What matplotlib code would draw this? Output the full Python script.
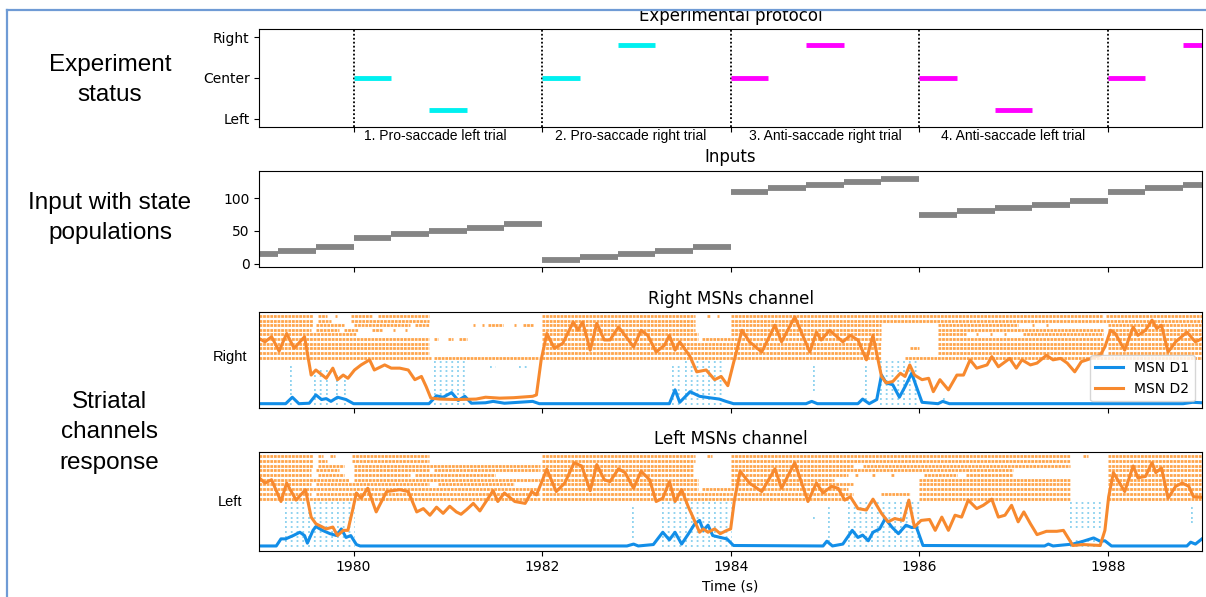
import matplotlib.pyplot as plt
import matplotlib.transforms as mtransforms
from matplotlib.lines import Line2D
from matplotlib.patches import Rectangle

plt.rcParams['font.family'] = 'DejaVu Sans'

# ---------------- data ----------------
trial_starts = [1980, 1982, 1984, 1986, 1988]
trial_names = ['1. Pro-saccade left trial', '2. Pro-saccade right trial',
               '3. Anti-saccade right trial', '4. Anti-saccade left trial']
trial_name_t = [1980.87, 1982.94, 1985.0, 1987.0]

# stimulus bars (Left=0, Center=1, Right=2)
stim_start = [1980.0, 1980.8, 1982.0, 1982.8, 1984.0, 1984.8, 1986.0, 1986.8, 1988.0, 1988.8]
stim_pos = [1.0, 0.2, 1.0, 1.8, 1.0, 1.8, 1.0, 0.2, 1.0, 1.8]
stim_type = ['pro', 'pro', 'pro', 'pro', 'anti', 'anti', 'anti', 'anti', 'anti', 'anti']
stim_len = 0.4

# input populations (steps of 0.4 s)
input_start = [1978.8, 1979.2, 1979.6,
               1980.0, 1980.4, 1980.8, 1981.2, 1981.6,
               1982.0, 1982.4, 1982.8, 1983.2, 1983.6,
               1984.0, 1984.4, 1984.8, 1985.2, 1985.6,
               1986.0, 1986.4, 1986.8, 1987.2, 1987.6,
               1988.0, 1988.4, 1988.8]
input_level = [15, 20, 25,
               40, 45, 50, 55, 60,
               5, 10, 15, 20, 25,
               110, 115, 120, 125, 130,
               75, 80, 85, 90, 95,
               110, 115, 120]
input_len = 0.4

# firing rates (in neuron-index units of the raster)
rd2_t = [1979.00, 1979.06, 1979.13, 1979.21, 1979.29, 1979.37, 1979.48, 1979.55, 1979.60, 1979.71,
         1979.78, 1979.83, 1979.89, 1979.94, 1980.01, 1980.08, 1980.17, 1980.22, 1980.33, 1980.40,
         1980.49, 1980.58, 1980.65, 1980.72, 1980.77, 1980.82, 1980.91, 1981.10, 1981.30, 1981.40,
         1981.55, 1981.70, 1981.90, 1981.94, 1981.99, 1982.05, 1982.13, 1982.22, 1982.33, 1982.38,
         1982.43, 1982.51, 1982.58, 1982.66, 1982.72, 1982.81, 1982.88, 1982.97, 1983.05, 1983.12,
         1983.21, 1983.30, 1983.35, 1983.41, 1983.46, 1983.57, 1983.64, 1983.74, 1983.83, 1983.90,
         1983.97, 1984.03, 1984.12, 1984.20, 1984.33, 1984.47, 1984.54, 1984.68, 1984.84, 1984.91,
         1984.96, 1985.05, 1985.19, 1985.27, 1985.35, 1985.44, 1985.51, 1985.60, 1985.65, 1985.72,
         1985.80, 1985.85, 1985.90, 1985.95, 1986.03, 1986.10, 1986.15, 1986.22, 1986.31, 1986.40,
         1986.47, 1986.54, 1986.61, 1986.72, 1986.77, 1986.84, 1986.96, 1987.03, 1987.09, 1987.18,
         1987.25, 1987.35, 1987.42, 1987.50, 1987.57, 1987.65, 1987.72, 1987.78, 1987.92, 1987.97,
         1988.03, 1988.08, 1988.18, 1988.27, 1988.32, 1988.40, 1988.47, 1988.52, 1988.57, 1988.64,
         1988.72, 1988.84, 1988.93, 1989.00]
rd2_v = [14.1, 13.4, 14.5, 11.4, 15.2, 12.0, 14.5, 6.2, 7.3, 5.5,
         7.7, 5.2, 6.2, 5.5, 7.3, 8.4, 9.5, 7.3, 8.4, 7.7,
         7.7, 7.3, 5.2, 5.9, 3.7, 1.2, 1.0, 0.9, 1.0, 1.4,
         1.2, 1.3, 1.6, 1.9, 9.5, 15.2, 12.0, 13.1, 17.7, 15.9,
         17.7, 11.6, 17.4, 13.8, 13.8, 16.6, 14.8, 12.3, 15.9, 14.8,
         11.2, 12.7, 14.8, 11.6, 13.4, 10.2, 6.9, 7.3, 5.2, 5.9,
         3.9, 8.8, 15.9, 13.4, 11.2, 17.0, 13.4, 18.8, 11.2, 15.5,
         13.8, 15.9, 13.4, 14.8, 13.8, 9.5, 14.8, 5.9, 4.5, 4.8,
         6.6, 5.9, 8.4, 6.2, 5.2, 5.5, 2.6, 5.2, 3.0, 6.2,
         6.2, 9.5, 7.7, 8.4, 10.2, 8.0, 9.8, 7.7, 9.5, 8.4,
         8.8, 10.5, 9.5, 9.8, 8.8, 6.9, 9.1, 9.5, 10.5, 12.3,
         15.9, 15.2, 11.6, 16.6, 14.8, 15.9, 18.1, 16.3, 17.0, 11.2,
         13.4, 15.5, 13.4, 14.1]

rd1_t = [1979.00, 1979.28, 1979.35, 1979.42, 1979.53, 1979.60, 1979.66, 1979.71, 1979.76, 1979.83,
         1979.92, 1980.00, 1980.80, 1980.88, 1980.95, 1981.04, 1981.11, 1981.18, 1981.25, 1981.40,
         1981.48, 1981.60, 1981.75, 1981.90, 1981.97, 1983.35, 1983.41, 1983.46, 1983.57, 1983.67,
         1983.77, 1983.88, 1983.95, 1984.03, 1984.80, 1984.86, 1984.92, 1985.35, 1985.40, 1985.47,
         1985.55, 1985.60, 1985.65, 1985.72, 1985.79, 1985.85, 1985.92, 1985.97, 1986.03, 1986.20,
         1986.25, 1986.32, 1988.80, 1988.90, 1989.00]
rd1_v = [0.0, 0.0, 1.4, 0.0, 0.1, 1.9, 0.9, 1.1, 0.5, 1.4,
         0.9, 0.0, 0.0, 1.7, 1.4, 2.4, 0.7, 1.6, 0.1, 0.2,
         0.5, 0.1, 0.3, 0.5, 0.0, 0.0, 3.0, 0.3, 2.6, 1.6,
         1.3, 1.0, 0.5, 0.0, 0.0, 0.5, 0.0, 0.0, 1.0, 0.0,
         0.9, 6.2, 4.5, 4.1, 1.4, 3.7, 6.6, 3.7, 0.3, 0.0,
         0.5, 0.0, 0.0, 0.3, 0.2]

ld2_t = [1979.00, 1979.06, 1979.13, 1979.23, 1979.29, 1979.39, 1979.49, 1979.55, 1979.60, 1979.71,
         1979.78, 1979.83, 1979.89, 1979.94, 1979.99, 1980.03, 1980.08, 1980.15, 1980.24, 1980.35,
         1980.49, 1980.58, 1980.67, 1980.74, 1980.81, 1980.88, 1980.95, 1981.02, 1981.09, 1981.14,
         1981.20, 1981.27, 1981.34, 1981.48, 1981.53, 1981.60, 1981.71, 1981.82, 1981.89, 1981.94,
         1982.05, 1982.15, 1982.24, 1982.34, 1982.42, 1982.51, 1982.58, 1982.66, 1982.72, 1982.81,
         1982.88, 1982.97, 1983.05, 1983.14, 1983.21, 1983.28, 1983.35, 1983.41, 1983.48, 1983.55,
         1983.60, 1983.67, 1983.71, 1983.76, 1983.83, 1983.89, 1983.96, 1984.00, 1984.04, 1984.10,
         1984.20, 1984.33, 1984.47, 1984.54, 1984.68, 1984.82, 1984.91, 1984.98, 1985.07, 1985.14,
         1985.21, 1985.27, 1985.35, 1985.44, 1985.51, 1985.60, 1985.67, 1985.74, 1985.83, 1985.89,
         1985.95, 1986.02, 1986.11, 1986.17, 1986.24, 1986.31, 1986.38, 1986.45, 1986.52, 1986.61,
         1986.68, 1986.77, 1986.84, 1986.91, 1986.98, 1987.05, 1987.11, 1987.18, 1987.25, 1987.35,
         1987.46, 1987.53, 1987.63, 1987.74, 1987.92, 1987.97, 1988.01, 1988.06, 1988.18, 1988.27,
         1988.32, 1988.40, 1988.47, 1988.51, 1988.57, 1988.64, 1988.72, 1988.79, 1988.86, 1988.91,
         1989.00]
ld2_v = [14.4, 13.3, 14.0, 9.4, 13.3, 9.7, 11.9, 6.1, 4.7, 3.6,
         4.0, 2.2, 3.3, 3.3, 7.6, 11.2, 10.1, 12.2, 7.2, 11.5,
         11.9, 11.5, 7.2, 7.9, 6.5, 8.2, 6.9, 8.4, 7.2, 6.7,
         7.7, 9.0, 7.4, 11.7, 9.4, 11.2, 9.4, 9.0, 11.5, 10.8,
         16.2, 11.5, 13.3, 17.6, 16.9, 11.7, 17.2, 14.0, 13.6, 16.3,
         15.5, 12.2, 15.8, 14.0, 9.4, 10.1, 13.6, 9.4, 11.9, 8.3,
         6.1, 2.9, 3.6, 2.9, 3.6, 2.6, 3.3, 3.6, 9.7, 15.8,
         13.3, 11.5, 16.3, 12.2, 17.6, 9.4, 13.3, 11.2, 12.6, 12.2,
         9.7, 10.4, 7.9, 7.6, 9.9, 6.9, 5.1, 5.8, 5.4, 9.7,
         4.0, 5.4, 5.6, 3.3, 6.1, 3.3, 6.5, 6.1, 9.7, 7.9,
         8.6, 9.9, 6.1, 6.5, 8.6, 5.1, 7.2, 4.7, 2.4, 3.1,
         3.1, 3.3, 0.1, 0.3, 0.1, 3.3, 10.4, 15.5, 11.5, 16.9,
         14.4, 14.7, 17.6, 15.5, 16.5, 10.1, 12.6, 13.3, 12.6, 10.4,
         10.3]

ld1_t = [1979.00, 1979.18, 1979.23, 1979.28, 1979.36, 1979.43, 1979.48, 1979.51, 1979.57, 1979.60,
         1979.67, 1979.75, 1979.82, 1979.87, 1979.92, 1979.97, 1980.03, 1980.07, 1982.90, 1982.97,
         1983.02, 1983.18, 1983.28, 1983.35, 1983.41, 1983.48, 1983.55, 1983.62, 1983.67, 1983.71,
         1983.76, 1983.81, 1983.89, 1983.96, 1984.03, 1984.98, 1985.02, 1985.08, 1985.19, 1985.29,
         1985.35, 1985.40, 1985.46, 1985.51, 1985.58, 1985.64, 1985.71, 1985.78, 1985.86, 1985.92,
         1985.97, 1986.04, 1987.33, 1987.37, 1987.42, 1987.63, 1987.74, 1987.85, 1987.92, 1987.97,
         1988.04, 1988.84, 1988.88, 1988.93, 1989.00]
ld1_v = [0.0, 0.0, 1.5, 1.5, 2.2, 2.9, 2.2, 0.6, 3.3, 4.1,
         3.3, 2.6, 2.2, 3.6, 1.8, 2.2, 0.3, 0.0, 0.0, 0.4,
         0.0, 0.3, 2.9, 1.3, 2.9, 0.4, 2.5, 4.7, 5.4, 3.3,
         4.4, 2.2, 1.8, 1.5, 0.1, 0.0, 1.0, 0.0, 0.4, 3.3,
         1.8, 2.3, 1.1, 2.9, 3.6, 5.8, 4.0, 2.6, 4.4, 3.9,
         4.0, 0.1, 0.0, 0.4, 0.0, 0.4, 1.0, 1.7, 1.0, 1.1,
         0.0, 0.0, 0.8, 0.4, 1.5]

# D2 spike trains: active intervals per row, rows 10 (bottom) .. 19 (top)
right_d2_rows = [
    [(1979.0, 1980.82), (1980.85, 1981.97), (1982.0, 1985.6), (1985.85, 1989.0)],
    [(1979.0, 1980.8), (1982.0, 1985.6), (1986.2, 1987.95), (1988.0, 1989.0)],
    [(1979.0, 1980.8), (1982.0, 1985.6), (1985.9, 1986.0), (1986.2, 1987.95), (1988.0, 1989.0)],
    [(1979.0, 1980.8), (1982.0, 1985.6), (1986.2, 1987.95), (1988.0, 1989.0)],
    [(1979.0, 1980.8), (1980.85, 1980.9), (1981.0, 1981.05), (1981.12, 1981.2),
     (1982.0, 1983.65), (1983.7, 1985.6), (1986.2, 1987.95), (1988.0, 1989.0)],
    [(1979.0, 1980.03), (1982.0, 1983.65), (1984.0, 1985.6), (1986.2, 1986.5),
     (1986.6, 1986.62), (1986.75, 1986.77), (1986.9, 1986.92), (1987.1, 1987.95), (1988.0, 1989.0)],
    [(1979.0, 1979.55), (1979.6, 1979.85), (1979.9, 1980.05), (1980.2, 1980.3), (1980.42, 1980.44),
     (1980.55, 1980.57), (1982.0, 1983.62), (1984.0, 1985.6), (1986.2, 1987.95), (1988.0, 1989.0)],
    [(1979.0, 1979.57), (1979.6, 1979.9), (1980.0, 1980.6), (1980.65, 1980.8), (1981.27, 1981.29),
     (1981.36, 1981.38), (1981.43, 1981.58), (1981.7, 1981.72), (1981.8, 1981.9), (1982.0, 1983.62),
     (1984.0, 1985.6), (1986.2, 1987.05), (1987.2, 1987.22), (1987.35, 1987.37), (1988.0, 1989.0)],
    [(1979.0, 1979.57), (1979.62, 1979.76), (1979.97, 1980.8), (1982.0, 1983.62), (1984.0, 1989.0)],
    [(1979.0, 1979.57), (1979.62, 1979.72), (1979.8, 1979.82), (1979.97, 1980.2), (1980.26, 1980.8),
     (1982.0, 1983.62), (1983.75, 1983.78), (1983.85, 1983.88), (1984.0, 1987.95), (1987.98, 1989.0)],
]
left_d2_rows = [
    [(1979.0, 1981.98), (1982.0, 1985.25), (1986.0, 1987.6), (1988.0, 1989.0)],
    [(1979.0, 1979.55), (1979.6, 1981.98), (1982.0, 1985.3), (1985.6, 1985.9), (1986.0, 1987.6), (1988.0, 1989.0)],
    [(1979.0, 1981.98), (1982.0, 1983.65), (1983.7, 1985.25), (1986.0, 1987.6), (1988.0, 1989.0)],
    [(1979.0, 1979.55), (1979.6, 1980.8), (1980.9, 1981.7), (1982.0, 1983.65), (1984.0, 1985.3), (1986.0, 1987.6), (1988.0, 1989.0)],
    [(1979.0, 1979.95), (1980.0, 1981.98), (1982.0, 1983.65), (1984.0, 1985.1), (1986.0, 1987.6), (1988.0, 1989.0)],
    [(1979.0, 1979.55), (1979.62, 1979.9), (1980.0, 1980.6), (1980.65, 1981.5), (1982.0, 1983.6),
     (1984.0, 1985.25), (1985.32, 1985.35), (1985.5, 1985.53), (1985.7, 1985.73), (1986.05, 1986.4),
     (1986.5, 1987.0), (1988.0, 1989.0)],
    [(1979.0, 1979.55), (1979.6, 1979.85), (1980.0, 1980.8), (1980.85, 1981.98), (1982.0, 1983.6),
     (1984.0, 1987.0), (1988.0, 1989.0)],
    [(1979.0, 1979.57), (1979.62, 1979.9), (1980.0, 1981.98), (1982.0, 1983.6), (1984.0, 1985.3),
     (1985.4, 1987.6), (1988.0, 1989.0)],
    [(1979.0, 1979.57), (1979.62, 1979.72), (1979.98, 1980.8), (1982.0, 1983.62), (1984.0, 1987.6), (1988.0, 1989.0)],
    [(1979.0, 1979.57), (1979.62, 1979.68), (1979.75, 1979.8), (1979.98, 1980.8), (1982.0, 1983.62),
     (1983.75, 1983.8), (1984.0, 1987.6), (1987.74, 1987.79), (1988.0, 1989.0)],
]

# D1 bursts: (t start, t end, lowest row, highest row), rows 0..9
right_d1_bursts = [
    (1979.33, 1979.37, 0, 8), (1979.58, 1979.66, 0, 7), (1979.71, 1979.75, 0, 7),
    (1979.81, 1979.85, 0, 6), (1979.90, 1979.94, 0, 6), (1980.85, 1981.20, 0, 9),
    (1981.45, 1981.50, 8, 8), (1981.75, 1981.85, 8, 8), (1983.38, 1983.45, 0, 8),
    (1983.52, 1983.92, 0, 9), (1984.87, 1984.89, 3, 8), (1985.42, 1985.46, 1, 8),
    (1985.58, 1985.98, 0, 9), (1986.25, 1986.27, 1, 1),
]
left_d1_bursts = [
    (1979.27, 1980.00, 0, 9), (1982.95, 1982.98, 2, 8), (1983.27, 1984.00, 0, 9),
    (1984.87, 1984.90, 6, 6), (1985.03, 1985.06, 1, 8), (1985.25, 1986.00, 0, 9),
    (1987.60, 1987.95, 4, 9), (1987.60, 1987.95, 0, 1), (1988.88, 1988.91, 5, 8),
]

# ---------------- style ----------------
C_PRO = '#00f0f0'
C_ANTI = '#ff00ff'
C_D1 = '#128ee8'
C_D2 = '#f7892e'
C_D1_SPK = '#86cfee'
C_D2_SPK = '#fea54c'
FRAME = '#6f9bd5'
W, H = 1206, 597


def fig_box(x0, y0, x1, y1):
    return [x0 / W, 1 - y1 / H, (x1 - x0) / W, (y1 - y0) / H]


fig = plt.figure(figsize=(W / 100, H / 100), dpi=100)
ax1 = fig.add_axes(fig_box(259.3, 29, 1202, 126.7))
ax2 = fig.add_axes(fig_box(259.3, 170.7, 1202, 267.3), sharex=ax1)
ax3 = fig.add_axes(fig_box(259.3, 312.3, 1202, 408.3), sharex=ax1)
ax4 = fig.add_axes(fig_box(259.3, 452.3, 1202, 550.7), sharex=ax1)

# --- experimental protocol ---
for t in trial_starts:
    ax1.axvline(t, color='black', lw=1.3, linestyle=(0, (1, 1.2)))
for s, p, k in zip(stim_start, stim_pos, stim_type):
    ax1.plot([s, s + stim_len], [p, p], color=C_PRO if k == 'pro' else C_ANTI,
             lw=3.5, solid_capstyle='butt')
ax1.set_ylim(-0.2, 2.2)
ax1.set_yticks([0, 1, 2])
ax1.set_yticklabels(['Left', 'Center', 'Right'])
ax1.set_title('Experimental protocol', fontsize=12)
trans1 = mtransforms.blended_transform_factory(ax1.transData, ax1.transAxes)
for name, t in zip(trial_names, trial_name_t):
    ax1.text(t, -0.097, name, transform=trans1, ha='center', va='center',
             fontsize=10, family='Liberation Sans')

# --- inputs ---
for s, v in zip(input_start, input_level):
    ax2.plot([s, s + input_len], [v, v], color='#858585', lw=4.2, solid_capstyle='butt')
ax2.set_ylim(-5.5, 142)
ax2.set_yticks([0, 50, 100])
ax2.set_title('Inputs', fontsize=12)


# --- MSN channels ---
def draw_channel(ax, d2_rows, d1_bursts, t1, v1, t2, v2):
    for i, row in enumerate(d2_rows):
        ax.hlines([10 + i] * len(row), [a for a, b in row], [b for a, b in row],
                  colors=C_D2_SPK, linewidth=2.0, linestyles=[(0, (1, 0.3))])
    for a, b, lo, hi in d1_bursts:
        rows = list(range(lo, hi + 1))
        ax.hlines(rows, [a] * len(rows), [b + 0.012] * len(rows),
                  colors=C_D1_SPK, linewidth=1.3, linestyles=[(0, (1, 2.2))])
    l1, = ax.plot(t1, v1, color=C_D1, lw=2.2, label='MSN D1')
    l2, = ax.plot(t2, v2, color=C_D2, lw=2.2, label='MSN D2')
    ax.set_ylim(-1.0, 19.8)
    ax.set_yticks([])
    return l1, l2


draw_channel(ax3, right_d2_rows, right_d1_bursts, rd1_t, rd1_v, rd2_t, rd2_v)
draw_channel(ax4, left_d2_rows, left_d1_bursts, ld1_t, ld1_v, ld2_t, ld2_v)
ax3.set_title('Right MSNs channel', fontsize=12)
ax4.set_title('Left MSNs channel', fontsize=12)
ax3.legend(loc='lower right', fontsize=10)
ax3.text(-0.031, 0.53, 'Right', transform=ax3.transAxes, ha='center', va='center',
         fontsize=10.5, family='Liberation Sans')
ax4.text(-0.031, 0.50, 'Left', transform=ax4.transAxes, ha='center', va='center',
         fontsize=10.5, family='Liberation Sans')

ax1.set_xlim(1979, 1989)
ax4.set_xticks([1980, 1982, 1984, 1986, 1988])
for ax in (ax1, ax2, ax3):
    ax.tick_params(labelbottom=False)
ax4.set_xlabel('Time (s)')

# --- slide text ---
side_kw = dict(ha='center', va='center', fontsize=17.5, family='Liberation Sans',
               multialignment='center', linespacing=1.5)
fig.text(110 / W, 1 - 80 / H, 'Experiment\nstatus', **side_kw)
fig.text(110 / W, 1 - 218 / H, 'Input with state\npopulations', **side_kw)
fig.text(109 / W, 1 - 432 / H, 'Striatal\nchannels\nresponse', **side_kw)

# slide frame cropping the top
fig.add_artist(Rectangle((0, 1 - 10 / H), 1, 10 / H, transform=fig.transFigure,
                         facecolor='white', edgecolor='none', zorder=10))
fig.add_artist(Line2D([7.3 / W, 1], [1 - 10 / H, 1 - 10 / H], transform=fig.transFigure,
                      color=FRAME, lw=1.6, zorder=11))
fig.add_artist(Line2D([7.3 / W, 7.3 / W], [0, 1 - 10 / H], transform=fig.transFigure,
                      color=FRAME, lw=1.6, zorder=11))

fig.savefig('out.png', dpi=100)
